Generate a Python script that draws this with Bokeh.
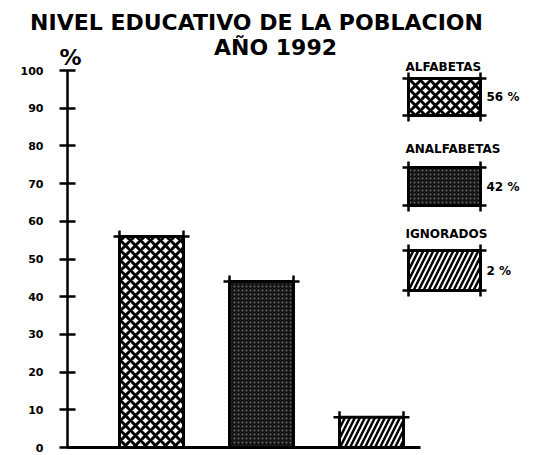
from bokeh.plotting import figure
from bokeh.models import LinearAxis, FixedTicker, Range1d
from bokeh.core.properties import value
from bokeh.embed import file_html
from bokeh.resources import INLINE

# ---------------- data ----------------
title_line1 = "NIVEL EDUCATIVO DE LA POBLACION"
title_line2 = "AÑO 1992"
categories = ["ALFABETAS", "ANALFABETAS", "IGNORADOS"]
bar_values = [56, 44, 8]              # heights as drawn on the % axis
legend_pct = ["56 %", "42 %", "2 %"]  # percentages written in the legend
y_ticks = [0, 10, 20, 30, 40, 50, 60, 70, 80, 90, 100]
y_unit = "%"

# ---------------- layout (page pixels) ----------------
W, H = 533, 455
Y0_PX, Y100_PX = 447.0, 70.0        # page y of 0 % and 100 %
PPU = (Y0_PX - Y100_PX) / 100.0
C1_PX, SP_PX = 151.0, 110.0         # centre of first bar, bar spacing
AXIS_PX = 67.0
BASE_END_PX = 420.0
BAR_W = 64.0 / SP_PX

def dx(px):
    return 1 + (px - C1_PX) / SP_PX

def dy(py):
    return (Y0_PX - py) / PPU

FONT = value("DejaVu Sans")

p = figure(width=W, height=H, output_backend="svg", toolbar_location=None,
           x_range=Range1d(dx(0), dx(W)), y_range=Range1d(dy(H), dy(0)),
           x_axis_type=None, y_axis_type=None, min_border=0,
           background_fill_color="white", border_fill_color="white")
p.outline_line_color = None
p.grid.visible = False

# y axis
yaxis = LinearAxis(fixed_location=dx(AXIS_PX), bounds=(0, 100),
                   ticker=FixedTicker(ticks=y_ticks))
yaxis.axis_line_width = 2.5
yaxis.major_tick_line_width = 2.5
yaxis.major_tick_in = 8
yaxis.major_tick_out = 8
yaxis.minor_tick_line_color = None
yaxis.major_label_standoff = 16
yaxis.major_label_text_font = "DejaVu Sans"
yaxis.major_label_text_font_style = "bold"
yaxis.major_label_text_font_size = "11px"
yaxis.major_label_text_color = "black"
p.add_layout(yaxis, "left")

# baseline
xaxis = LinearAxis(fixed_location=0, bounds=(dx(AXIS_PX), dx(BASE_END_PX)),
                   ticker=FixedTicker(ticks=[]))
xaxis.axis_line_width = 3
xaxis.major_tick_line_color = None
xaxis.minor_tick_line_color = None
xaxis.major_label_text_font_size = "0px"
p.add_layout(xaxis, "below")

styles = [
    dict(fill_color="white", hatch_pattern="x", hatch_color="black",
         hatch_weight=3, hatch_scale=10),
    dict(fill_color="#141414", hatch_pattern="dot", hatch_color="white",
         hatch_alpha=0.35, hatch_weight=0.6, hatch_scale=4),
    dict(fill_color="white", hatch_pattern="/", hatch_color="black",
         hatch_weight=2.5, hatch_scale=10),
]

xs = [1, 2, 3]
for x, top, st in zip(xs, bar_values, styles):
    p.vbar(x=[x], top=[top], bottom=0, width=BAR_W, line_color="black",
           line_width=3, **st)
    p.scatter(x=[x - BAR_W / 2, x + BAR_W / 2], y=[top, top], marker="cross",
              size=12, line_width=2.5, line_color="black")

# legend
leg_left, leg_right = 408.0, 480.0
leg_tops = [78.0, 167.0, 250.0]
leg_bots = [115.0, 205.0, 290.0]
leg_title_y = [66.0, 148.0, 233.0]
for cat, pct, st, t, b, ty in zip(categories, legend_pct, styles, leg_tops, leg_bots, leg_title_y):
    p.quad(left=[dx(leg_left)], right=[dx(leg_right)], top=[dy(t)], bottom=[dy(b)],
           line_color="black", line_width=3, **st)
    p.scatter(x=[dx(leg_left), dx(leg_right), dx(leg_left), dx(leg_right)],
              y=[dy(t), dy(t), dy(b), dy(b)], marker="cross", size=12,
              line_width=2.5, line_color="black")
    p.text(x=[dx(405)], y=[dy(ty)], text=[cat], text_font=FONT,
           text_font_style="bold", text_font_size="12px", text_align="left",
           text_baseline="middle", text_color="black")
    p.text(x=[dx(486)], y=[dy((t + b) / 2)], text=[pct], text_font=FONT,
           text_font_style="bold", text_font_size="12px", text_align="left",
           text_baseline="middle", text_color="black")

# titles
p.text(x=[dx(256)], y=[dy(22)], text=[title_line1], text_font=FONT,
       text_font_style="bold", text_font_size="22px", text_align="center",
       text_baseline="middle", text_color="black")
p.text(x=[dx(275)], y=[dy(47)], text=[title_line2], text_font=FONT,
       text_font_style="bold", text_font_size="22px", text_align="center",
       text_baseline="middle", text_color="black")
p.text(x=[dx(70)], y=[dy(57)], text=[y_unit], text_font=FONT,
       text_font_style="bold", text_font_size="22px", text_align="center",
       text_baseline="middle", text_color="black")

open("out.html", "w").write(file_html(p, INLINE))
